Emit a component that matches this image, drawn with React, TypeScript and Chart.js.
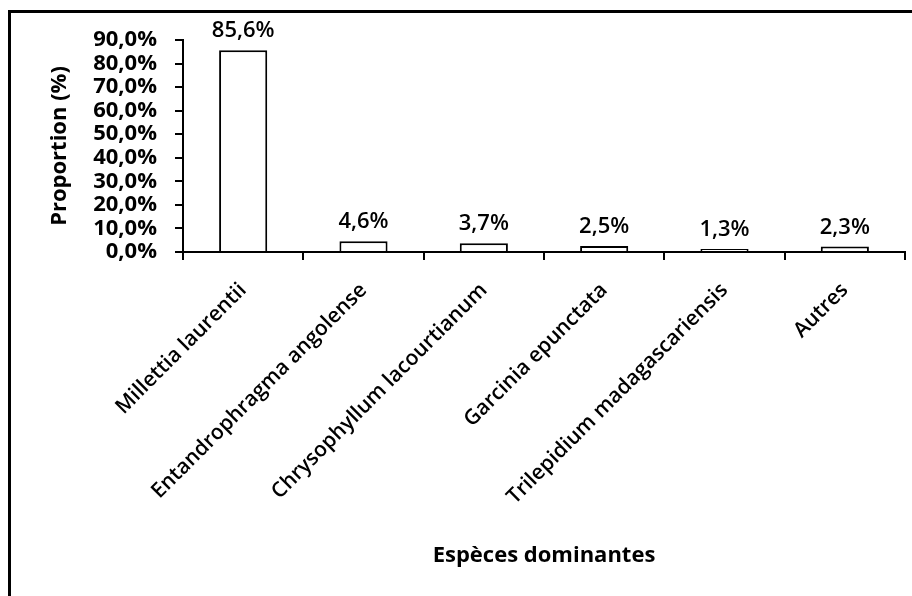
import React, { useEffect, useRef } from "react";
import { Chart, registerables } from "chart.js";

Chart.register(...registerables);

const categories = [
  "Millettia laurentii",
  "Entandrophragma angolense",
  "Chrysophyllum lacourtianum",
  "Garcinia epunctata",
  "Trilepidium madagascariensis",
  "Autres",
];
const proportions = [85.6, 4.6, 3.7, 2.5, 1.3, 2.3];
const yTickValues = [0, 10, 20, 30, 40, 50, 60, 70, 80, 90];

const FONT = "'Open Sans', 'Noto Sans', sans-serif";
const fmt = (v: number) => v.toFixed(1).replace(".", ",") + "%";

const dataLabels = {
  id: "dataLabels",
  afterDatasetsDraw(chart: any) {
    const ctx = chart.ctx;
    const meta = chart.getDatasetMeta(0);
    ctx.save();
    ctx.fillStyle = "#000";
    ctx.font = `600 22px ${FONT}`;
    ctx.textAlign = "center";
    ctx.textBaseline = "alphabetic";
    meta.data.forEach((bar: any, i: number) => {
      ctx.fillText(fmt(proportions[i]), bar.x, bar.y - 13);
    });
    ctx.restore();
  },
};

const frame = {
  id: "frame",
  afterDraw(chart: any) {
    const ctx = chart.ctx;
    ctx.save();
    ctx.strokeStyle = "#000";
    ctx.lineWidth = 3;
    ctx.beginPath();
    ctx.moveTo(9.5, 700);
    ctx.lineTo(9.5, 11.5);
    ctx.lineTo(1000, 11.5);
    ctx.stroke();
    ctx.restore();
  },
};

export default function App() {
  const ref = useRef<HTMLCanvasElement | null>(null);
  useEffect(() => {
    if (!ref.current) return;
    const chart = new Chart(ref.current, {
      type: "bar",
      data: {
        labels: categories,
        datasets: [
          {
            data: proportions,
            backgroundColor: "#ffffff",
            borderColor: "#000000",
            borderWidth: 2,
            categoryPercentage: 1,
            barPercentage: 0.4,
          },
        ],
      },
      options: {
        responsive: false,
        animation: false,
        layout: { padding: { left: 47, top: 40, right: 7, bottom: 27 } },
        plugins: {
          legend: { display: false },
          tooltip: { enabled: false },
        },
        scales: {
          x: {
            afterFit: (s: any) => {
              s.height = 317;
            },
            border: { display: true, color: "#000", width: 2 },
            grid: {
              display: true,
              drawOnChartArea: false,
              drawTicks: true,
              tickLength: 8,
              color: "#000",
              lineWidth: 2,
              offset: true,
            },
            ticks: {
              color: "#000",
              font: { family: FONT, size: 21, weight: 600 },
              minRotation: 45,
              maxRotation: 45,
              autoSkip: false,
              padding: 18,
            },
            title: {
              display: true,
              text: "Espèces dominantes",
              color: "#000",
              font: { family: FONT, size: 22, weight: "bold" },
              padding: { top: 0, bottom: 0 },
            },
          },
          y: {
            min: 0,
            max: 90,
            afterFit: (s: any) => {
              s.width = 136;
            },
            afterBuildTicks: (s: any) => {
              s.ticks = yTickValues.map((v) => ({ value: v }));
            },
            border: { display: true, color: "#000", width: 2 },
            grid: {
              display: true,
              drawOnChartArea: false,
              drawTicks: true,
              tickLength: 8,
              color: "#000",
              lineWidth: 2,
            },
            ticks: {
              color: "#000",
              autoSkip: false,
              font: { family: FONT, size: 22, weight: "bold" },
              padding: 18,
              callback: (v: any) => fmt(Number(v)),
            },
            title: {
              display: true,
              text: "Proportion (%)",
              color: "#000",
              font: { family: FONT, size: 22, weight: "bold" },
              padding: { top: 0, bottom: 0 },
            },
          },
        },
      },
      plugins: [dataLabels, frame],
    });
    return () => chart.destroy();
  }, []);
  return (
    <div style={{ position: "absolute", left: 0, top: 0, width: 912, height: 596, background: "#fff" }}>
      <canvas ref={ref} width={912} height={596} />
    </div>
  );
}
